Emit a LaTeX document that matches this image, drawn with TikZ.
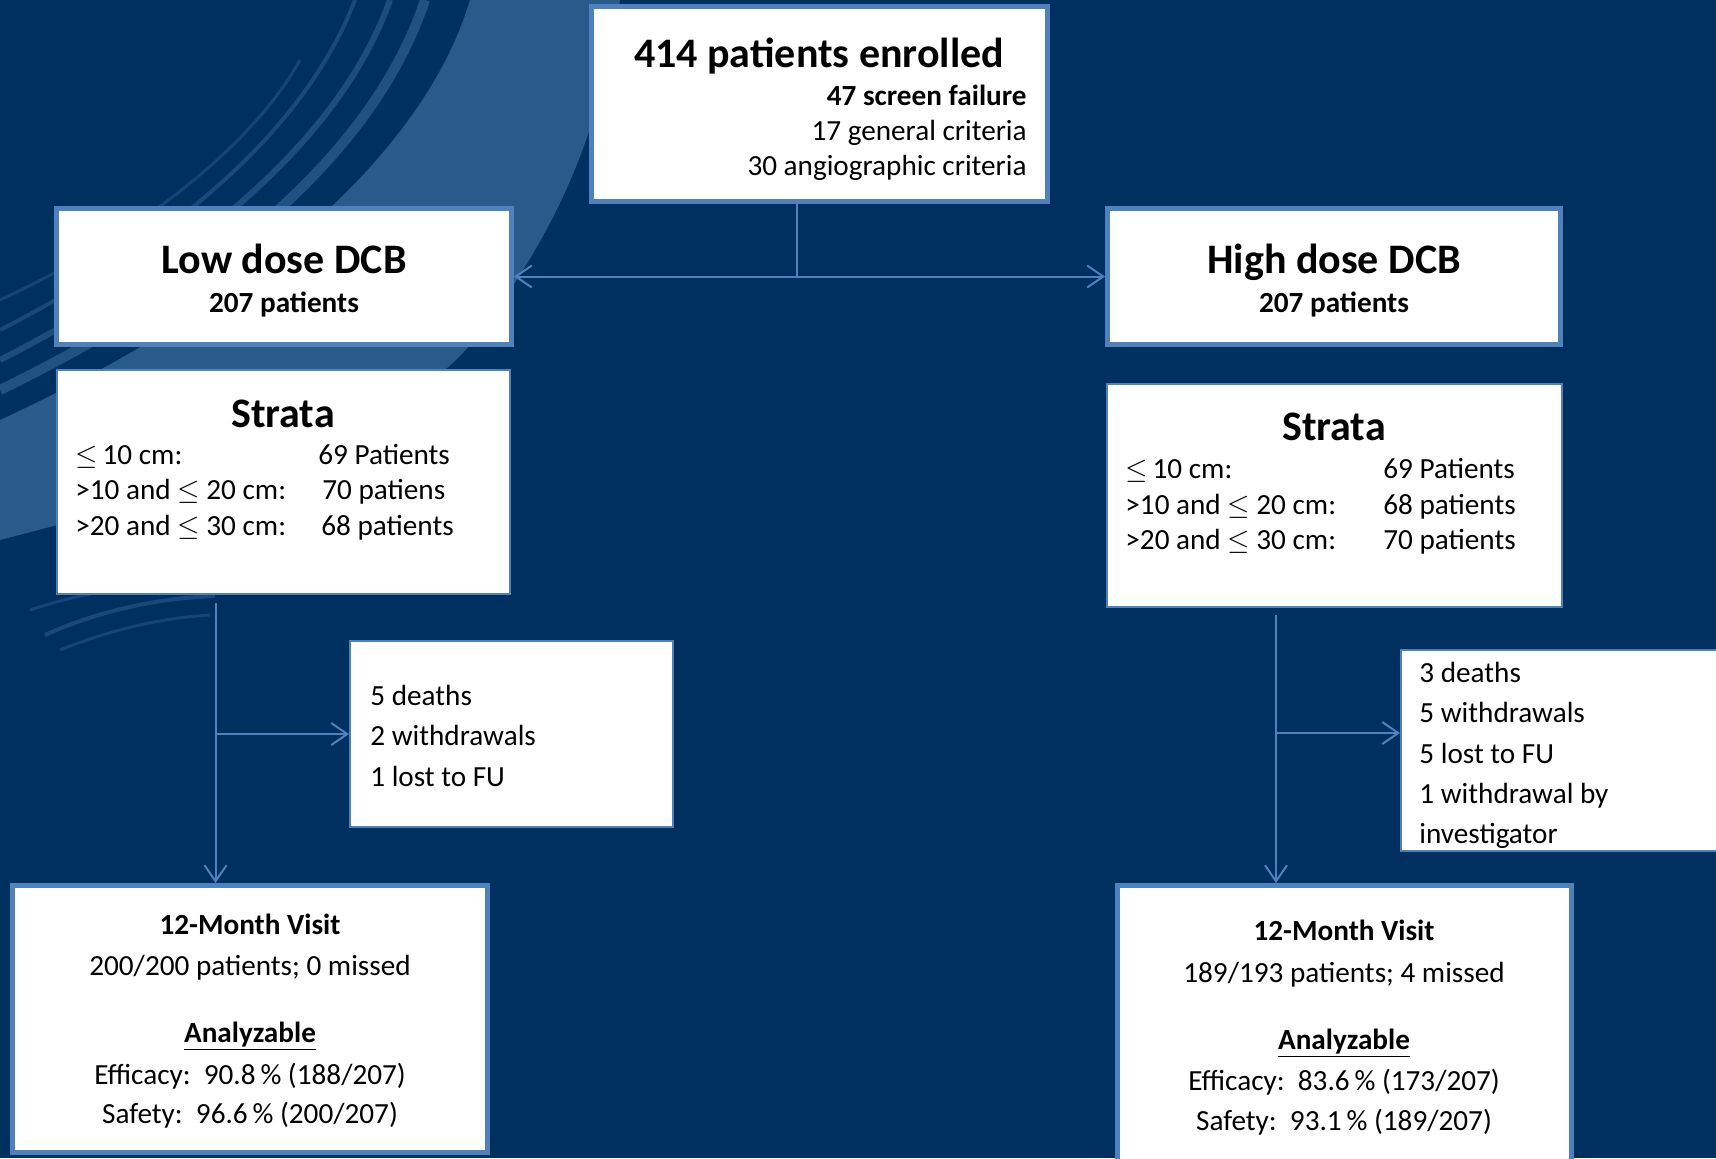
\documentclass[tikz,border=0pt]{standalone}
\usepackage{fontspec}
\setmainfont{Carlito}
\usetikzlibrary{arrows.meta,fit}
\definecolor{bgnavy}{RGB}{0,48,96}
\definecolor{swoosh}{RGB}{40,90,140}
\definecolor{edge}{RGB}{79,129,189}
\begin{document}
\begin{tikzpicture}[x=0.5pt,y=-0.5pt,
  thickbox/.style={draw=edge,line width=2.5pt,fill=white,inner sep=0pt},
  thinbox/.style={draw=edge,line width=1pt,fill=white,inner sep=0pt},
  conn/.style={draw=edge,line width=1pt},
  arr/.style={conn,-{Straight Barb[length=8pt,width=11pt]}},
  big/.style={inner sep=0pt,font=\bfseries\fontsize{21}{25}\selectfont},
  bsmall/.style={inner sep=0pt,font=\bfseries\fontsize{14.6}{17}\selectfont},
  norm/.style={inner sep=0pt,font=\fontsize{14.6}{17}\selectfont}]
\useasboundingbox (0,0) rectangle (1716,1158);
\clip (0,0) rectangle (1716,1158);
\fill[bgnavy] (0,0) rectangle (1716,1158);
% background swoosh
\fill[swoosh] (470,0) .. controls (425,150) and (260,300) .. (0,420)
  -- (0,540) .. controls (150,500) and (380,450) .. (470,345)
  .. controls (560,230) and (600,130) .. (620,0) -- cycle;
\draw[swoosh,line width=5pt,opacity=.8] (425,0) .. controls (375,150) and (225,280) .. (0,390);
\draw[swoosh,line width=3pt,opacity=.7] (390,0) .. controls (340,140) and (195,260) .. (0,360);
\draw[swoosh,line width=2pt,opacity=.6] (355,0) .. controls (305,130) and (175,240) .. (0,330);
\draw[swoosh,line width=1.5pt,opacity=.5] (300,60) .. controls (250,150) and (130,240) .. (0,300);
\draw[swoosh,line width=2pt,opacity=.6] (45,635) .. controls (100,610) and (160,598) .. (215,596);
\draw[swoosh,line width=1.5pt,opacity=.5] (60,650) .. controls (110,630) and (160,618) .. (210,615);
\draw[swoosh,line width=1.5pt,opacity=.5] (30,610) .. controls (90,590) and (140,585) .. (200,582);

% boxes
\node[thickbox,fit={(591.5,6.5)(1047.5,201.5)}] (top) {};
\node[thickbox,fit={(56.5,208.5)(511.5,344.5)}] (low) {};
\node[thickbox,fit={(1107.5,208.5)(1560.5,344.5)}] (high) {};
\node[thinbox,fit={(57,370)(510,594)}] (lowstrata) {};
\node[thinbox,fit={(1107,384)(1562,607)}] (highstrata) {};
\node[thinbox,fit={(350,641)(673,827)}] (lowdrop) {};
\node[thinbox,fit={(1401,650)(1730,851)}] (highdrop) {};
\node[thickbox,fit={(12.5,885.5)(487.5,1152.5)}] (lowvisit) {};
\node[thickbox,fit={(1117.5,885.5)(1571.5,1175)}] (highvisit) {};

% top box text
\node[big,anchor=base] (t1) at (819,67) {414 patients enrolled};
\node[bsmall,anchor=base east] (t2) at (1027,105) {47 screen failure};
\node[norm,anchor=base east] (t3) at (1027,140) {17 general criteria};
\node[norm,anchor=base east] (t4) at (1027,175) {30 angiographic criteria};

% dose boxes
\node[big,anchor=base] (l1) at (284,273) {Low dose DCB};
\node[bsmall,anchor=base] (l2) at (284,312) {207 patients};
\node[big,anchor=base] (h1) at (1334,273) {High dose DCB};
\node[bsmall,anchor=base] (h2) at (1334,312) {207 patients};

% low strata
\node[big,anchor=base] (ls0) at (283,427) {Strata};
\node[norm,anchor=base west] (ls1) at (75,464) {$\leq$\,10 cm:};
\node[norm,anchor=base west] (ls2) at (75,499) {>10 and $\leq$ 20 cm:};
\node[norm,anchor=base west] (ls3) at (75,535) {>20 and $\leq$ 30 cm:};
\node[norm,anchor=base west] (ls4) at (318,464) {69 Patients};
\node[norm,anchor=base west] (ls5) at (322,499) {70 patiens};
\node[norm,anchor=base west] (ls6) at (321,535) {68 patients};

% high strata
\node[big,anchor=base] (hs0) at (1334,440) {Strata};
\node[norm,anchor=base west] (hs1) at (1125,478) {$\leq$\,10 cm:};
\node[norm,anchor=base west] (hs2) at (1125,514) {>10 and $\leq$ 20 cm:};
\node[norm,anchor=base west] (hs3) at (1125,549) {>20 and $\leq$ 30 cm:};
\node[norm,anchor=base west] (hs4) at (1383,478) {69 Patients};
\node[norm,anchor=base west] (hs5) at (1383,514) {68 patients};
\node[norm,anchor=base west] (hs6) at (1383,549) {70 patients};

% dropouts
\node[norm,anchor=base west] (ld1) at (370,705) {5 deaths};
\node[norm,anchor=base west] (ld2) at (370,745) {2 withdrawals};
\node[norm,anchor=base west] (ld3) at (370,786) {1 lost to FU};
\node[norm,anchor=base west] (hd1) at (1419,682) {3 deaths};
\node[norm,anchor=base west] (hd2) at (1419,722) {5 withdrawals};
\node[norm,anchor=base west] (hd3) at (1419,763) {5 lost to FU};
\node[norm,anchor=base west] (hd4) at (1419,803) {1 withdrawal by};
\node[norm,anchor=base west] (hd5) at (1419,843) {investigator};

% 12-month visits
\node[bsmall,anchor=base] (lv1) at (250,934) {12-Month Visit};
\node[norm,anchor=base] (lv2) at (250,975) {200/200 patients; 0 missed};
\node[bsmall,anchor=base] (lv3) at (250,1042) {\underline{Analyzable}};
\node[norm,anchor=base] (lv4) at (250,1084) {Efficacy:\ \ 90.8\,\% (188/207)};
\node[norm,anchor=base] (lv5) at (250,1123) {Safety:\ \ 96.6\,\% (200/207)};
\node[bsmall,anchor=base] (hv1) at (1344,940) {12-Month Visit};
\node[norm,anchor=base] (hv2) at (1344,982) {189/193 patients; 4 missed};
\node[bsmall,anchor=base] (hv3) at (1344,1049) {\underline{Analyzable}};
\node[norm,anchor=base] (hv4) at (1344,1090) {Efficacy:\ \ 83.6\,\% (173/207)};
\node[norm,anchor=base] (hv5) at (1344,1130) {Safety:\ \ 93.1\,\% (189/207)};

% connectors
\coordinate (split) at (797,276.5);
\draw[conn] (split |- top.south) -- (split);
\draw[arr] (split) -- (low.east);
\draw[arr] (split) -- (high.west);
\coordinate (lvtop) at (215.5,603);
\coordinate (lbr) at (215.5,734);
\draw[arr] (lvtop) -- (lvtop |- lowvisit.north);
\draw[arr] (lbr) -- (lbr -| lowdrop.west);
\coordinate (hvtop) at (1276,615);
\coordinate (hbr) at (1276,733);
\draw[arr] (hvtop) -- (hvtop |- highvisit.north);
\draw[arr] (hbr) -- (hbr -| highdrop.west);
\end{tikzpicture}
\end{document}
